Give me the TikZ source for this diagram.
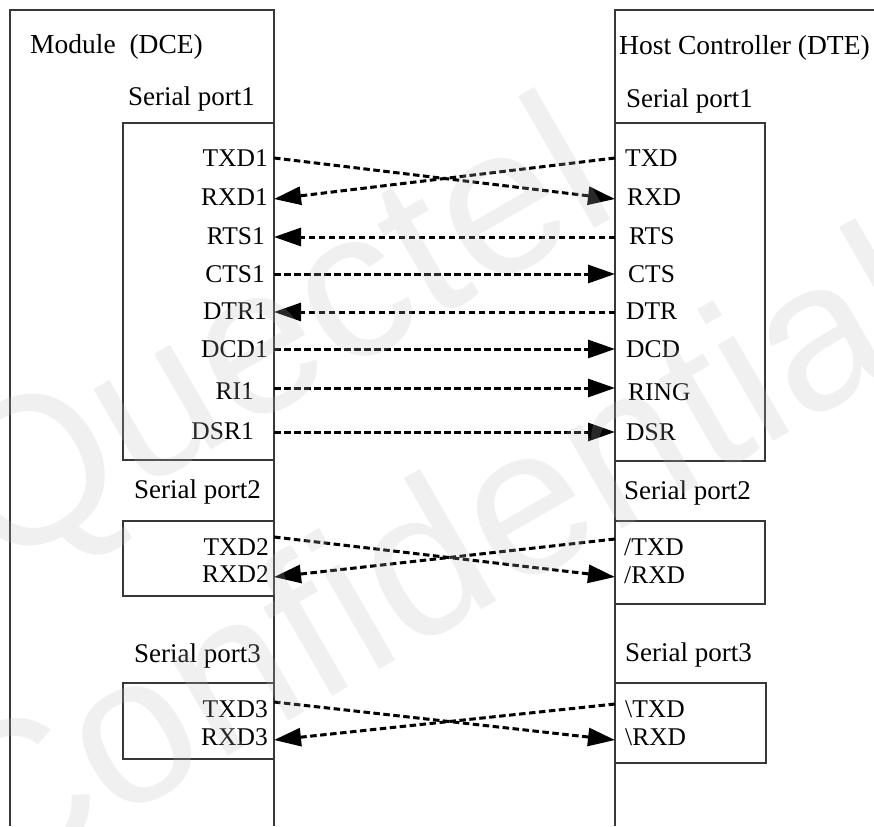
\documentclass[tikz,border=0pt]{standalone}
\usepackage{fontspec}
\setmainfont{Liberation Serif}
\newfontfamily\wmfont{Liberation Sans}
\usetikzlibrary{arrows.meta}

\tikzset{
  frame/.style={draw=black!78, line width=1.2pt},
  title/.style={font=\fontsize{27.5}{30}\selectfont, inner sep=0pt},
  portname/.style={font=\fontsize{27}{30}\selectfont, inner sep=0pt},
  sig/.style={font=\fontsize{25.5}{28}\selectfont, inner sep=0pt},
  link/.style={line width=3pt, dash pattern=on 6.5pt off 3.5pt,
    -{Triangle[length=27pt,width=18pt]}},
  wmark/.style={font=\wmfont\fontsize{210}{210}\selectfont, inner sep=0pt,
    text={rgb,255:red,186;green,186;blue,186}, text opacity=0.22, rotate=30}
}

\begin{document}
\begin{tikzpicture}[x=1pt, y=-1pt]
\useasboundingbox (0,0) rectangle (874,826);

% module (DCE) side
\draw[frame] (10,826) -- (10,10) -- (274,10) -- (274,826);
\draw[frame] (123,123) rectangle (274,460);
\draw[frame] (123,521) rectangle (274,596);
\draw[frame] (123,683) rectangle (274,759);

% host controller (DTE) side
\draw[frame] (874,10) -- (615,10) -- (615,826);
\draw[frame] (615,123) rectangle (765,461);
\draw[frame] (615,521) rectangle (765,604);
\draw[frame] (615,683) rectangle (766,763);

% headings
\node[title, anchor=base west] (dce) at (30,54) {Module\ \ (DCE)};
\node[title, anchor=base west] (dte) at (619,55) {Host Controller (DTE)};
\node[portname, anchor=base west] (lsp1) at (128,106) {Serial port1};
\node[portname, anchor=base west] (rsp1) at (626,108) {Serial port1};
\node[portname, anchor=base west] (lsp2) at (134,498) {Serial port2};
\node[portname, anchor=base west] (rsp2) at (624,499) {Serial port2};
\node[portname, anchor=base west] (lsp3) at (134,662) {Serial port3};
\node[portname, anchor=base west] (rsp3) at (625,661) {Serial port3};

% module pin names
\node[sig, anchor=base east] (ltxd1) at (268,167) {TXD1};
\node[sig, anchor=base east] (lrxd1) at (268,206) {RXD1};
\node[sig, anchor=base east] (lrts1) at (265,244) {RTS1};
\node[sig, anchor=base east] (lcts1) at (265,282) {CTS1};
\node[sig, anchor=base east] (ldtr1) at (267,319) {DTR1};
\node[sig, anchor=base east] (ldcd1) at (268,357) {DCD1};
\node[sig, anchor=base east] (lri1)  at (254,399) {RI1};
\node[sig, anchor=base east] (ldsr1) at (254,439) {DSR1};
\node[sig, anchor=base east] (ltxd2) at (269,555) {TXD2};
\node[sig, anchor=base east] (lrxd2) at (269,582) {RXD2};
\node[sig, anchor=base east] (ltxd3) at (268,717) {TXD3};
\node[sig, anchor=base east] (lrxd3) at (268,745) {RXD3};

% host pin names
\node[sig, anchor=base west] (rtxd) at (625,167) {TXD};
\node[sig, anchor=base west] (rrxd) at (627,206) {RXD};
\node[sig, anchor=base west] (rrts) at (629,244) {RTS};
\node[sig, anchor=base west] (rcts) at (628,282) {CTS};
\node[sig, anchor=base west] (rdtr) at (626,319) {DTR};
\node[sig, anchor=base west] (rdcd) at (626,357) {DCD};
\node[sig, anchor=base west] (rring) at (628,400) {RING};
\node[sig, anchor=base west] (rdsr) at (626,440) {DSR};
\node[sig, anchor=base west] (rtxd2) at (624,555) {/TXD};
\node[sig, anchor=base west] (rrxd2) at (624,583) {/RXD};
\node[sig, anchor=base west] (rtxd3) at (625,717) {\textbackslash TXD};
\node[sig, anchor=base west] (rrxd3) at (625,745) {\textbackslash RXD};

% pin points on the box edges
\coordinate (pTXD1) at (274,158);
\coordinate (pRXD1) at (274,199);
\coordinate (pRTS1) at (274,237);
\coordinate (pCTS1) at (274,274);
\coordinate (pDTR1) at (274,312);
\coordinate (pDCD1) at (274,349);
\coordinate (pRI1)  at (274,388);
\coordinate (pDSR1) at (274,432);
\coordinate (pTXD2) at (274,537);
\coordinate (pRXD2) at (274,577);
\coordinate (pTXD3) at (274,702);
\coordinate (pRXD3) at (274,740);

\coordinate (qTXD)  at (615,158);
\coordinate (qRXD)  at (615,199);
\coordinate (qRTS)  at (615,237);
\coordinate (qCTS)  at (615,274);
\coordinate (qDTR)  at (615,312);
\coordinate (qDCD)  at (615,349);
\coordinate (qRING) at (615,388);
\coordinate (qDSR)  at (615,432);
\coordinate (qTXD2) at (615,539);
\coordinate (qRXD2) at (615,577);
\coordinate (qTXD3) at (615,704);
\coordinate (qRXD3) at (615,740);

% signal links
\draw[link] (pTXD1) -- (qRXD);
\draw[link] (qTXD) -- (pRXD1);
\draw[link] (qRTS) -- (pRTS1);
\draw[link] (pCTS1) -- (qCTS);
\draw[link] (qDTR) -- (pDTR1);
\draw[link] (pDCD1) -- (qDCD);
\draw[link] (pRI1) -- (qRING);
\draw[link] (pDSR1) -- (qDSR);
\draw[link] (pTXD2) -- (qRXD2);
\draw[link] (qTXD2) -- (pRXD2);
\draw[link] (pTXD3) -- (qRXD3);
\draw[link] (qTXD3) -- (pRXD3);

% watermark
\node[wmark, anchor=base west] (wm1) at (-4,574) {Quectel};
\node[wmark, anchor=base west] (wm2) at (-17,898) {Confidential};
\end{tikzpicture}
\end{document}
